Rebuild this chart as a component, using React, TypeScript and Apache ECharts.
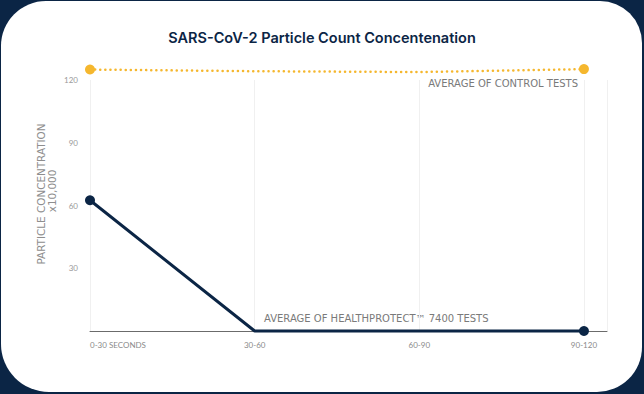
import React, { useEffect, useRef } from "react";
import * as echarts from "echarts";

const categories = ["0-30 SECONDS", "30-60", "60-90", "90-120"];
const controlValues = [125, 124.2, 123.8, 125.2];
const healthProtectValues = [62.5, 0, 0, 0];
const yTicks = { min: 0, max: 120, interval: 30 };
const title = "SARS-CoV-2 Particle Count Concentenation";
const controlLabel = "AVERAGE OF CONTROL TESTS";
const hpLabel = "AVERAGE OF HEALTHPROTECT\u2122 7400 TESTS";

const NAVY = "#0b2545";
const GOLD = "#f5b72e";
const GRAY = "#8a8a8a";
const SPACED_FONT = "DejaVu Sans";

export default function App() {
  const ref = useRef<HTMLDivElement>(null);
  useEffect(() => {
    if (!ref.current) return;
    const chart = echarts.init(ref.current, undefined, { renderer: "svg" });
    const last = categories.length - 1;
    const endSymbol = (_v: any, p: any) =>
      p.dataIndex === 0 || p.dataIndex === last ? 10 : 0;
    chart.setOption({
      animation: false,
      backgroundColor: "transparent",
      title: {
        text: title,
        left: "center",
        top: 25,
        textStyle: {
          fontFamily: "Inter",
          fontWeight: 600,
          fontSize: 14.5,
          color: NAVY,
        },
      },
      grid: { left: 90, right: 37, top: 80, bottom: 63 },
      xAxis: {
        type: "value",
        min: 0,
        max: 3.14,
        interval: 1,
        axisLine: { show: true, lineStyle: { color: "#6b6b6b", width: 1 } },
        axisTick: { show: false },
        splitLine: { show: true, lineStyle: { color: "#f0f0f0", width: 1 } },
        axisLabel: {
          showMaxLabel: false,
          alignMinLabel: "left",
          margin: 10,
          fontFamily: "Lato",
          fontSize: 8,
          color: GRAY,
          formatter: (v: number) =>
            Number.isInteger(v) && categories[v] !== undefined ? categories[v] : "",
        },
      },
      yAxis: {
        type: "value",
        min: yTicks.min,
        max: yTicks.max,
        interval: yTicks.interval,
        axisLine: { show: false },
        axisTick: { show: false },
        splitLine: { show: false },
        axisLabel: {
          margin: 12,
          fontFamily: "Lato",
          fontSize: 8,
          color: "#9a9a9a",
          formatter: (v: number) => (v === 0 ? "" : String(v)),
        },
      },
      series: [
        {
          type: "line",
          name: "Control",
          data: controlValues.map((v, i) => [i, v]),
          clip: false,
          symbol: "circle",
          symbolSize: endSymbol,
          itemStyle: { color: GOLD },
          lineStyle: { color: GOLD, width: 2.5, type: [0.1, 5], cap: "round" },
          z: 3,
        },
        {
          type: "line",
          name: "HealthProtect",
          data: healthProtectValues.map((v, i) => [i, v]),
          clip: false,
          symbol: "circle",
          symbolSize: endSymbol,
          itemStyle: { color: NAVY },
          lineStyle: { color: NAVY, width: 3 },
          z: 4,
        },
      ],
      graphic: [
        {
          type: "text",
          right: 66,
          top: 78,
          style: {
            text: controlLabel,
            fontFamily: SPACED_FONT,
            fontSize: 10,
            fill: "#7a7a7a",
          },
        },
        {
          type: "text",
          left: 264,
          top: 313,
          style: {
            text: hpLabel,
            fontFamily: SPACED_FONT,
            fontSize: 10,
            fill: "#7a7a7a",
          },
        },
        {
          type: "text",
          x: 41,
          y: 194,
          rotation: Math.PI / 2,
          style: {
            text: "PARTICLE CONCENTRATION",
            fontFamily: SPACED_FONT,
            fontSize: 10.4,
            fill: "#8e8e8e",
            align: "center",
            verticalAlign: "middle",
          },
        },
        {
          type: "text",
          x: 52,
          y: 191,
          rotation: Math.PI / 2,
          style: {
            text: "x10,000",
            fontFamily: SPACED_FONT,
            fontSize: 10.4,
            fill: "#8e8e8e",
            align: "center",
            verticalAlign: "middle",
          },
        },
      ],
    });
    return () => chart.dispose();
  }, []);

  return (
    <div
      style={{
        position: "fixed",
        left: 0,
        top: 0,
        width: 644,
        height: 394,
        background: NAVY,
        overflow: "hidden",
      }}
    >
      <div
        style={{
          position: "absolute",
          left: 1,
          top: 1,
          width: 641,
          height: 391,
          background: "#ffffff",
          borderRadius: "45px 42px 45px 48px",
        }}
      />
      <div
        ref={ref}
        style={{ position: "absolute", left: 0, top: 0, width: 644, height: 394 }}
      />
    </div>
  );
}
